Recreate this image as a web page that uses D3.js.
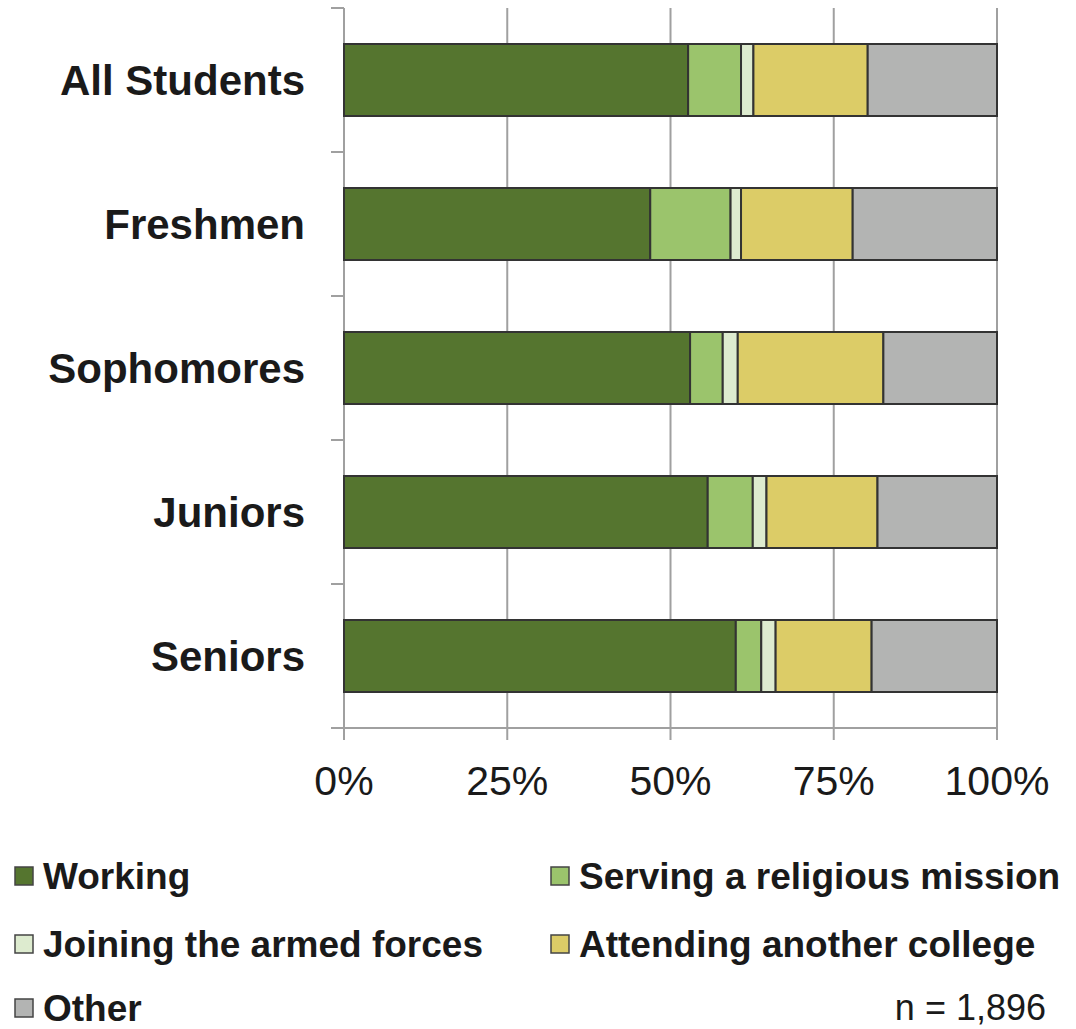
<!DOCTYPE html>
<html>
<head>
<meta charset="utf-8">
<script src="https://cdn.jsdelivr.net/npm/d3@7"></script>
<style>
  body { margin: 0; background: #fff; }
  svg { font-family: "Liberation Sans", Arial, sans-serif; }
</style>
</head>
<body>
<div id="chart"></div>
<script>
// data (percent of students)
const categories = ["All Students", "Freshmen", "Sophomores", "Juniors", "Seniors"];
const seriesNames = ["Working", "Serving a religious mission", "Joining the armed forces", "Attending another college", "Other"];
const working   = [52.7, 46.9, 53.0, 55.7, 60.0];
const religious = [8.1, 12.3, 5.0, 6.9, 3.9];
const armed     = [1.9, 1.6, 2.3, 2.1, 2.2];
const college   = [17.5, 17.1, 22.3, 17.0, 14.7];
const other     = [19.8, 22.1, 17.4, 18.3, 19.2];
const tickValues = [0, 25, 50, 75, 100];
const colors = ["#55752f", "#9bc46c", "#ddebcf", "#dccc67", "#b3b4b3"];
const note = "n = 1,896";

const width = 1076, height = 1029;
const margin = {top: 8, left: 344, right: 79, bottom: 301};

const svg = d3.select("#chart").append("svg")
    .attr("width", width)
    .attr("height", height);

const x = d3.scaleLinear().domain([0, 100]).range([margin.left, width - margin.right]);
const y = d3.scaleBand().domain(categories)
    .range([margin.top, height - margin.bottom])
    .paddingInner(0.5).paddingOuter(0.25);

const series = [working, religious, armed, college, other];
const rows = categories.map((c, i) => {
    const r = {cat: c};
    seriesNames.forEach((s, j) => r[s] = series[j][i]);
    return r;
});
const stacked = d3.stack().keys(seriesNames)(rows);

// vertical gridlines
svg.append("g").selectAll("line")
    .data(tickValues.slice(1))
    .join("line")
    .attr("x1", d => x(d)).attr("x2", d => x(d))
    .attr("y1", margin.top).attr("y2", height - margin.bottom + 12)
    .attr("stroke", "#a0a0a0").attr("stroke-width", 2);

// left axis with tick marks between categories
const yEdges = d3.range(categories.length + 1).map(i => margin.top + i * y.step());
svg.append("line")
    .attr("x1", x(0)).attr("x2", x(0))
    .attr("y1", margin.top).attr("y2", height - margin.bottom + 12)
    .attr("stroke", "#a0a0a0").attr("stroke-width", 2);
svg.append("g").selectAll("line")
    .data(yEdges)
    .join("line")
    .attr("x1", x(0) - 13).attr("x2", x(0))
    .attr("y1", d => d).attr("y2", d => d)
    .attr("stroke", "#a0a0a0").attr("stroke-width", 2);
svg.append("line")
    .attr("x1", x(0) - 13).attr("x2", x(100))
    .attr("y1", height - margin.bottom).attr("y2", height - margin.bottom)
    .attr("stroke", "#a0a0a0").attr("stroke-width", 2);

// bars
svg.append("g").selectAll("g")
    .data(stacked)
    .join("g")
    .attr("fill", (d, i) => colors[i])
    .selectAll("rect")
    .data(d => d)
    .join("rect")
    .attr("x", d => x(d[0]))
    .attr("y", d => y(d.data.cat))
    .attr("width", d => x(d[1]) - x(d[0]))
    .attr("height", y.bandwidth())
    .attr("stroke", "#333")
    .attr("stroke-width", 2);

// category labels
svg.append("g").selectAll("text")
    .data(categories)
    .join("text")
    .attr("x", 305)
    .attr("y", d => y(d) + y.bandwidth() / 2)
    .attr("dy", "0.35em")
    .attr("text-anchor", "end")
    .attr("font-size", 42)
    .attr("font-weight", "bold")
    .attr("fill", "#1a1a1a")
    .text(d => d);

// x tick labels
svg.append("g").selectAll("text")
    .data(tickValues)
    .join("text")
    .attr("x", d => x(d))
    .attr("y", 795)
    .attr("text-anchor", "middle")
    .attr("font-size", 41)
    .attr("fill", "#1a1a1a")
    .text(d => d + "%");

// legend
const legendPos = [[15, 876], [551, 876], [15, 944], [551, 944], [15, 1008]];
const legend = svg.append("g").selectAll("g")
    .data(seriesNames)
    .join("g")
    .attr("transform", (d, i) => `translate(${legendPos[i][0]},${legendPos[i][1]})`);
legend.append("rect")
    .attr("x", 0).attr("y", -9)
    .attr("width", 18).attr("height", 18)
    .attr("fill", (d, i) => colors[i])
    .attr("stroke", "#444").attr("stroke-width", 1.5);
legend.append("text")
    .attr("x", 28)
    .attr("dy", "0.35em")
    .attr("font-size", 37)
    .attr("font-weight", "bold")
    .attr("fill", "#1a1a1a")
    .text(d => d);

svg.append("text")
    .attr("x", 1046)
    .attr("y", 1020)
    .attr("text-anchor", "end")
    .attr("font-size", 36)
    .attr("fill", "#1a1a1a")
    .text(note);
</script>
</body>
</html>
